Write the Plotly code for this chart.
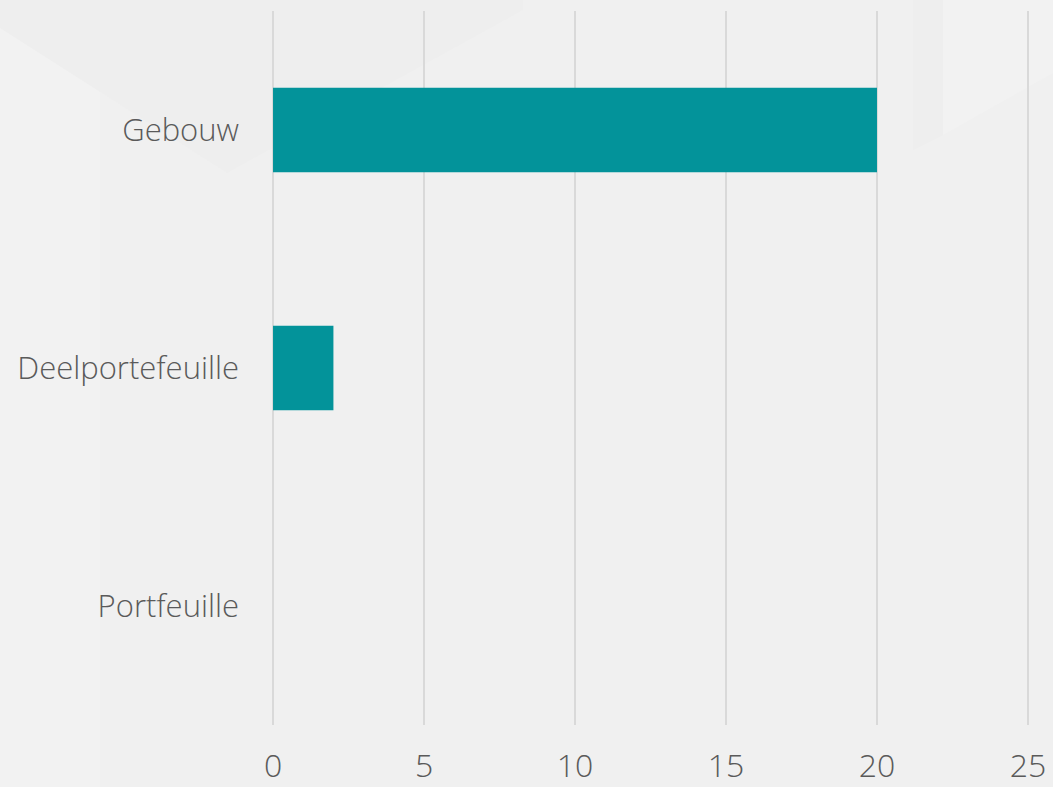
import plotly.graph_objects as go

categories = ["Gebouw", "Deelportefeuille", "Portfeuille"]
values = [20, 2, 0]
x_ticks = [0, 5, 10, 15, 20, 25]

BAR_COLOR = "#03939a"
BG = "#f0f0f0"
TEXT = "#5a5a5a"
GRID = "#d9d9d9"
FONT = "Open Sans"

W, H = 1053, 787
M_L, M_R, M_T, M_B = 270, 22, 11, 62
PW, PH = W - M_L - M_R, H - M_T - M_B


def px_path(points):
    """Turn a polygon given in page pixels into a paper-referenced SVG path."""
    parts = []
    for i, (px, py) in enumerate(points):
        xp = (px - M_L) / PW
        yp = (H - M_B - py) / PH
        parts.append(("M" if i == 0 else "L") + f" {xp:.4f} {yp:.4f}")
    return " ".join(parts) + " Z"


fig = go.Figure(
    go.Bar(
        y=categories,
        x=values,
        orientation="h",
        marker=dict(color=BAR_COLOR, line=dict(width=0)),
        width=0.356,
        hoverinfo="skip",
    )
)

# soft geometric backdrop
backdrop = [
    ([(0, 0), (100, 0), (100, 787), (0, 787)], "#f2f2f2"),
    ([(0, 28), (227, 173), (523, 10), (523, 0), (0, 0)], "#eeeeee"),
    ([(913, 0), (943, 0), (943, 135), (913, 150)], "#eeeeee"),
    ([(943, 0), (1053, 0), (1053, 73), (943, 135)], "#f2f2f2"),
]
for pts, col in backdrop:
    fig.add_shape(
        type="path", path=px_path(pts), xref="paper", yref="paper",
        fillcolor=col, line=dict(width=0), layer="below",
    )

fig.update_layout(
    width=W,
    height=H,
    margin=dict(l=M_L, r=M_R, t=M_T, b=M_B),
    paper_bgcolor=BG,
    plot_bgcolor="rgba(0,0,0,0)",
    font=dict(family=FONT, size=31, color=TEXT, weight=300),
    showlegend=False,
)
fig.update_xaxes(
    range=[-0.1, 25.1],
    tickvals=x_ticks,
    showgrid=True,
    gridcolor=GRID,
    gridwidth=2,
    zeroline=False,
    showline=False,
    ticks="",
    ticklabelstandoff=19,
    tickfont=dict(family=FONT, size=32, color=TEXT, weight=300),
    automargin=False,
    fixedrange=True,
)
fig.update_yaxes(
    categoryorder="array",
    categoryarray=categories[::-1],
    range=[-0.5, 2.5],
    showgrid=False,
    zeroline=False,
    showline=False,
    ticks="",
    ticklabelstandoff=30,
    tickfont=dict(family=FONT, size=31, color=TEXT, weight=300),
    automargin=False,
    fixedrange=True,
)

fig.write_html("out.html")
